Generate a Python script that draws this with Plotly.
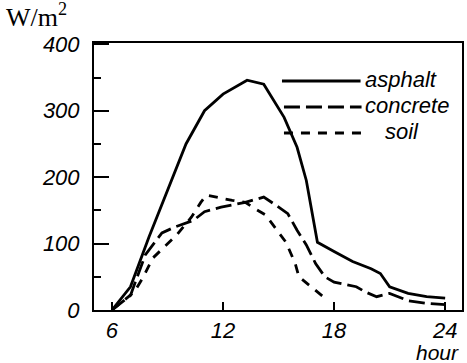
import plotly.graph_objects as go

# ---- data ----
asphalt_h = [6, 7, 8, 9, 10, 11, 12, 13.3, 14.2, 15.3, 16, 16.5, 17.1, 18, 19, 20, 20.5, 21, 22, 23, 24]
asphalt_v = [0, 35, 110, 180, 250, 300, 325, 346, 340, 290, 245, 195, 102, 88, 73, 62, 55, 35, 25, 20, 18]

concrete_h = [6, 7, 7.8, 8.7, 9.4, 10, 10.4, 11, 11.9, 13.2, 13.6, 14.2, 14.9, 15.5, 16, 16.5, 17, 17.5, 18, 19.2, 19.7, 20.3, 21, 22, 23, 24]
concrete_v = [0, 22, 83, 116, 125, 131, 135, 148, 155, 162, 165, 170, 157, 145, 120, 98, 70, 50, 42, 35, 27, 20, 25, 14, 10, 8]

soil_h = [6, 7.2, 7.7, 8.2, 9.5, 10.3, 10.8, 11.1, 12.5, 13.2, 13.7, 14.3, 15.4, 15.9, 16.1, 17.5]
soil_v = [0, 27, 50, 78, 113, 140, 162, 173, 165, 162, 153, 143, 102, 70, 50, 18]

series_names = ["asphalt", "concrete", "soil"]
x_ticks = [6, 12, 18, 24]
y_ticks = [0, 100, 200, 300, 400]

W, H = 467, 363
L, R, T, B = 94, 3, 43, 53
PW, PH = W - L - R, H - T - B


def px(x):
    return (x - L) / PW


def py(y):
    return (H - B - y) / PH


dashes = ["solid", "16px,6px", "9px,8px"]
fig = go.Figure()
for name, xs, ys, d in zip(series_names,
                           [asphalt_h, concrete_h, soil_h],
                           [asphalt_v, concrete_v, soil_v], dashes):
    fig.add_trace(go.Scatter(x=xs, y=ys, mode="lines", name=name, showlegend=False,
                             line=dict(color="black", width=2.8, dash=d)))

tickfont = dict(family="Liberation Sans", size=22, color="black", style="italic")

fig.update_xaxes(range=[5.03, 24.91], tickvals=x_ticks, ticktext=[str(v) for v in x_ticks],
                 ticks="inside", ticklen=8, tickwidth=2, tickcolor="black",
                 showline=True, linecolor="black", linewidth=2, mirror=True,
                 showgrid=False, zeroline=False, tickfont=tickfont, ticklabelstandoff=0)
fig.update_yaxes(range=[0, 402], tickvals=y_ticks, ticktext=[str(v) for v in y_ticks],
                 ticks="inside", ticklen=15, tickwidth=2, tickcolor="black",
                 minor=dict(dtick=50, ticks="inside", ticklen=7, tickwidth=2, tickcolor="black"),
                 showline=True, linecolor="black", linewidth=2, mirror=True,
                 showgrid=False, zeroline=False, tickfont=tickfont, ticklabelstandoff=8)

# legend drawn by hand (long sample lines like the original)
leg_y = [81, 107, 133]
leg_x0 = [283, 285, 285]
leg_x1 = [362, 363, 367]
text_x = [364, 364, 385]
text_y = [79, 105, 131]
for i, name in enumerate(series_names):
    fig.add_shape(type="line", xref="paper", yref="paper",
                  x0=px(leg_x0[i]), x1=px(leg_x1[i]), y0=py(leg_y[i]), y1=py(leg_y[i]),
                  line=dict(color="black", width=2.8, dash=dashes[i]))
    fig.add_annotation(xref="paper", yref="paper", x=px(text_x[i]), y=py(text_y[i]),
                       xanchor="left", yanchor="middle", showarrow=False, text=name,
                       font=dict(family="Liberation Sans", size=22, color="black", style="italic"))

fig.add_annotation(xref="paper", yref="paper", x=px(4), y=py(16), xanchor="left", yanchor="middle",
                   showarrow=False, text="W/m<sup>2</sup>",
                   font=dict(family="Liberation Serif", size=26, color="black"))
fig.add_annotation(xref="paper", yref="paper", x=px(463), y=py(352), xanchor="right", yanchor="middle",
                   showarrow=False, text="hour",
                   font=dict(family="Liberation Sans", size=21, color="black", style="italic"))

fig.update_layout(width=W, height=H, margin=dict(l=L, r=R, t=T, b=B),
                  paper_bgcolor="white", plot_bgcolor="white", showlegend=False)

fig.write_html("out.html")
